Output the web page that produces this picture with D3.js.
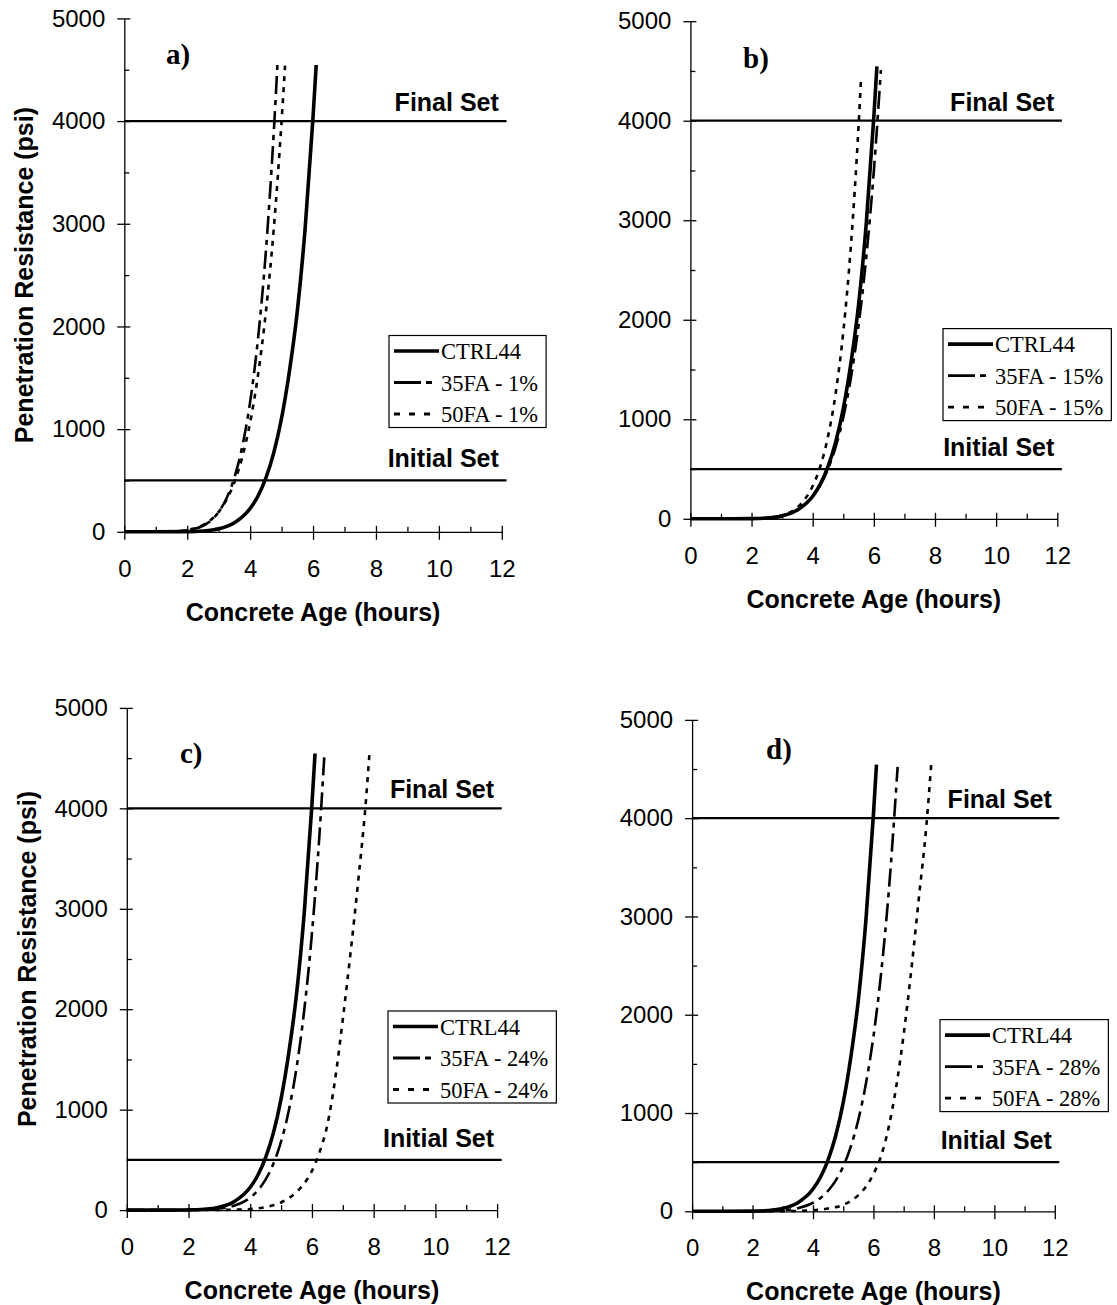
<!DOCTYPE html>
<html>
<head>
<meta charset="utf-8">
<script src="https://cdn.jsdelivr.net/npm/d3@7/dist/d3.min.js"></script>
<style>
  html, body { margin: 0; padding: 0; background: #fff; }
  svg { display: block; }
  .tick text { font-family: "Liberation Sans", Arial, sans-serif; font-size: 24px; fill: #000; }
  .axis path, .axis line { stroke: #000; stroke-width: 1.3px; }
</style>
</head>
<body>
<svg id="fig" width="1117" height="1305"></svg>
<script>
// ---- Data: penetration resistance (psi) vs concrete age (hours) ----
const yTickValues = [0, 1000, 2000, 3000, 4000, 5000];
const yMinorValues = [500, 1500, 2500, 3500, 4500];
const xTickValues = [0, 2, 4, 6, 8, 10, 12];
const xMinorValues = [1, 3, 5, 7, 9, 11];
const setLevels = [4000, 500];
const setLabels = ["Final Set", "Initial Set"];
const panelTags = ["a)", "b)", "c)", "d)"];
const ashPercent = ["1%", "15%", "24%", "28%"];

// control mix (same in every panel)
const hoursCtrl = [0, 1, 2, 2.5, 3, 3.5, 4, 4.25, 4.5, 4.75, 5, 5.25, 5.5, 5.75, 6, 6.1];
const psiCtrl   = [0, 0, 2, 8, 29, 88, 227, 349, 524, 769, 1108, 1566, 2150, 2960, 4040, 4546];

// a) 1%
const hours35a = [0, 1, 1.5, 2, 2.5, 2.75, 3, 3.25, 3.5, 3.75, 4, 4.25, 4.5, 4.75, 4.87];
const psi35a   = [0, 0, 2, 14, 59, 109, 193, 326, 529, 830, 1265, 1880, 2729, 3885, 4560];
const hours50a = [0, 1, 1.5, 2, 2.5, 2.75, 3, 3.25, 3.5, 3.75, 4, 4.25, 4.5, 4.75, 5, 5.11];
const psi50a   = [0, 0, 3, 18, 66, 116, 194, 312, 483, 727, 1066, 1526, 2140, 2946, 4000, 4540];

// b) 15%
const hours35b = [0, 1, 2, 2.5, 3, 3.5, 4, 4.25, 4.5, 4.75, 5, 5.25, 5.5, 5.75, 6, 6.23];
const psi35b   = [0, 0, 2, 9, 32, 91, 226, 340, 500, 721, 1019, 1418, 1942, 2623, 3496, 4508];
const hours50b = [0, 1, 2, 2.5, 3, 3.5, 3.75, 4, 4.25, 4.5, 4.75, 5, 5.25, 5.5, 5.58];
const psi50b   = [0, 0, 1.5, 8, 35, 116, 199, 329, 528, 826, 1258, 1877, 2747, 3947, 4420];

// c) 24%
const hours35c = [0, 1, 2, 2.5, 3, 3.5, 4, 4.25, 4.5, 4.75, 5, 5.25, 5.5, 5.75, 6, 6.25, 6.4];
const psi35c   = [0, 0, 0.6, 3, 14, 45, 124, 197, 305, 462, 683, 992, 1416, 1990, 2756, 3768, 4516];
const hours50c = [0, 1, 2, 3, 3.5, 4, 4.5, 5, 5.5, 5.75, 6, 6.25, 6.5, 6.75, 7, 7.25, 7.5, 7.75, 7.86];
const psi50c   = [0, 0, 0.2, 1.5, 4, 10, 30, 76, 180, 265, 390, 580, 850, 1300, 1900, 2560, 3280, 4080, 4530];

// d) 28%
const hours35d = [0, 1, 2, 3, 3.5, 4, 4.25, 4.5, 4.75, 5, 5.25, 5.5, 5.75, 6, 6.25, 6.5, 6.8];
const psi35d   = [0, 0, 0.5, 10, 32, 87, 136, 209, 312, 457, 658, 931, 1297, 1779, 2412, 3230, 4522];
const hours50d = [0, 1, 2, 3, 3.5, 4, 4.5, 5, 5.5, 5.75, 6, 6.25, 6.5, 6.75, 7, 7.25, 7.5, 7.75, 7.91];
const psi50d   = [0, 0, 0.2, 1.5, 4, 10, 28, 66, 165, 250, 380, 560, 850, 1260, 1800, 2450, 3180, 3920, 4540];

const fa35 = [[hours35a, psi35a], [hours35b, psi35b], [hours35c, psi35c], [hours35d, psi35d]];
const fa50 = [[hours50a, psi50a], [hours50b, psi50b], [hours50c, psi50c], [hours50d, psi50d]];

// ---- Layout of the four panels ----
const frames = [
  { left: 124.3, right: 501.8, top: 18.4,  bottom: 531.8,  legX: 389, legY: 335.5, tagX: 166, tagY: 64,  yTitle: true },
  { left: 690.4, right: 1057.3, top: 21.2, bottom: 518.8,  legX: 943, legY: 328.6, tagX: 743, tagY: 68,  yTitle: false },
  { left: 126.8, right: 497.1, top: 707.9, bottom: 1210.1, legX: 388, legY: 1011,  tagX: 180, tagY: 763, yTitle: true },
  { left: 692.1, right: 1054.8, top: 719.9, bottom: 1211.3, legX: 940, legY: 1019.6, tagX: 766, tagY: 759, yTitle: false }
];

const styles = [
  { width: 3.6, dash: null,          legendDash: null },
  { width: 2.6, dash: "18,6,5,6",    legendDash: "27,5,6,20" },
  { width: 2.6, dash: "5,6",         legendDash: "6,9" }
];

const svg = d3.select("#fig");
svg.append("rect").attr("width", 1117).attr("height", 1305).attr("fill", "#fff");

frames.forEach((f, i) => {
  const x = d3.scaleLinear().domain([0, 12]).range([f.left, f.right]);
  const y = d3.scaleLinear().domain([0, 5000]).range([f.bottom, f.top]);
  const g = svg.append("g");

  // minor ticks (inside only)
  g.append("g").attr("class", "axis").attr("transform", `translate(${f.left},0)`)
    .call(d3.axisRight(y).tickValues(yMinorValues).tickSize(5).tickFormat(""))
    .call(s => s.select(".domain").remove());
  g.append("g").attr("class", "axis").attr("transform", `translate(0,${f.bottom})`)
    .call(d3.axisTop(x).tickValues(xMinorValues).tickSize(5).tickFormat(""))
    .call(s => s.select(".domain").remove());

  // major axes, ticks crossing the axis line
  g.append("g").attr("class", "axis").attr("transform", `translate(${f.left},0)`)
    .call(d3.axisLeft(y).tickValues(yTickValues).tickSizeInner(7).tickSizeOuter(0).tickPadding(12).tickFormat(d3.format("d")))
    .call(s => s.selectAll(".tick line").attr("x1", 6));
  g.append("g").attr("class", "axis").attr("transform", `translate(0,${f.bottom})`)
    .call(d3.axisBottom(x).tickValues(xTickValues).tickSizeInner(8).tickSizeOuter(0).tickPadding(20).tickFormat(d3.format("d")))
    .call(s => s.selectAll(".tick line").attr("y1", -6));

  // axis titles
  g.append("text")
    .attr("x", (f.left + f.right) / 2).attr("y", f.bottom + 89)
    .attr("text-anchor", "middle")
    .style("font-family", "'Liberation Sans', Arial, sans-serif")
    .style("font-weight", "bold").style("font-size", "25px")
    .text("Concrete Age (hours)");
  if (f.yTitle) {
    g.append("text")
      .attr("transform", `translate(${f.left - 91},${(f.top + f.bottom) / 2}) rotate(-90)`)
      .attr("text-anchor", "middle")
      .style("font-family", "'Liberation Sans', Arial, sans-serif")
      .style("font-weight", "bold").style("font-size", "25px")
      .text("Penetration Resistance (psi)");
  }

  // initial / final set reference lines
  setLevels.forEach((lvl, k) => {
    g.append("line")
      .attr("x1", x(0)).attr("x2", x(12.15))
      .attr("y1", y(lvl)).attr("y2", y(lvl))
      .attr("stroke", "#000").attr("stroke-width", 2.2);
    g.append("text")
      .attr("x", x(12) - 3).attr("y", y(lvl) - (k === 0 ? 10 : 13))
      .attr("text-anchor", "end")
      .style("font-family", "'Liberation Sans', Arial, sans-serif")
      .style("font-weight", "bold").style("font-size", "25px")
      .text(setLabels[k]);
  });

  // curves
  const line = d3.line().x(d => x(d[0])).y(d => y(d[1])).curve(d3.curveMonotoneX);
  const series = [
    { name: "CTRL44", hours: hoursCtrl, psi: psiCtrl },
    { name: `35FA - ${ashPercent[i]}`, hours: fa35[i][0], psi: fa35[i][1] },
    { name: `50FA - ${ashPercent[i]}`, hours: fa50[i][0], psi: fa50[i][1] }
  ];
  // draw dotted first, then dash-dot, then control on top
  [2, 1, 0].forEach(k => {
    const s = series[k];
    const pts = s.hours.map((h, j) => [h, s.psi[j]]);
    g.append("path")
      .attr("d", line(pts))
      .attr("fill", "none").attr("stroke", "#000")
      .attr("stroke-width", styles[k].width)
      .attr("stroke-dasharray", styles[k].dash)
      .attr("stroke-linejoin", "round");
  });

  // panel tag
  g.append("text")
    .attr("x", f.tagX).attr("y", f.tagY)
    .style("font-family", "'Liberation Serif', 'Times New Roman', serif")
    .style("font-weight", "bold").style("font-size", "29px")
    .text(panelTags[i]);

  // legend
  const leg = g.append("g").attr("transform", `translate(${f.legX},${f.legY})`);
  const box = leg.append("rect").attr("fill", "#fff").attr("stroke", "#000").attr("stroke-width", 1.2);
  let maxW = 0;
  series.forEach((s, k) => {
    const base = 23.5 + k * 31.5;
    leg.append("line")
      .attr("x1", 5).attr("x2", 50)
      .attr("y1", base - 8).attr("y2", base - 8)
      .attr("stroke", "#000").attr("stroke-width", k === 0 ? 3.6 : 2.8)
      .attr("stroke-dasharray", styles[k].legendDash);
    const t = leg.append("text")
      .attr("x", 52).attr("y", base)
      .style("font-family", "'Liberation Serif', 'Times New Roman', serif")
      .style("font-size", "22.5px")
      .text(s.name);
    maxW = Math.max(maxW, t.node().getComputedTextLength());
  });
  box.attr("x", 0).attr("y", 0).attr("width", 52 + maxW + 8).attr("height", 92);
});
</script>
</body>
</html>
